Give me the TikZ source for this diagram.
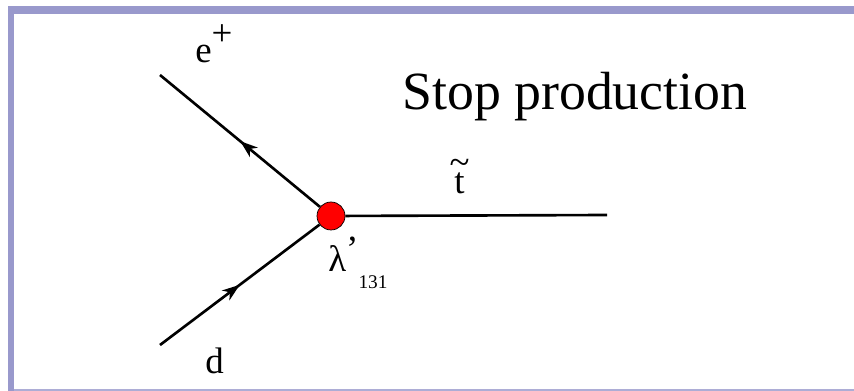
\documentclass[tikz,border=0pt]{standalone}
\usepackage{fontspec}
\setmainfont{Liberation Serif}
\usepackage{xcolor}
\usetikzlibrary{arrows.meta, decorations.markings}

\definecolor{framecol}{RGB}{153,153,204}

\begin{document}
\begin{tikzpicture}[
    x=0.02cm, y=-0.02cm,
    line/.style={line width=1.5pt},
    fermion/.style={line, postaction={decorate},
        decoration={markings, mark=at position 0.5 with {\arrow{Stealth[length=10pt, width=7pt, inset=3pt]}}}},
    vertex/.style={circle, draw=black, fill=red, thin, minimum size=0.56cm, inner sep=0pt},
    label/.style={inner sep=0pt, font=\fontsize{21}{24}\selectfont},
    title/.style={inner sep=0pt, font=\fontsize{30.6}{36}\selectfont}
]
\useasboundingbox (0,0) rectangle (854,391);

% Frame
\fill[framecol] (8,6) rectangle (854,14);
\fill[framecol] (8,6) rectangle (14,391);
\fill[framecol!80] (14,389) rectangle (854,391);

% Vertex and ends
\node[vertex] (v) at (331,216) {};
\coordinate (eend) at (160,75);
\coordinate (dend) at (160,345);
\coordinate (tend) at (607,215);

\draw[fermion] (v) -- (eend);
\draw[fermion] (dend) -- (v);
\draw[line] (v) -- (tend);

% Labels
\node[label, anchor=base west] (elab) at (195,63) {e\raisebox{10pt}{+}};
\node[label, anchor=base west] (dlab) at (205,373) {d};
\node[label, anchor=base west] (tlab) at (454,194)
    {\ooalign{t\cr\hidewidth\raisebox{11pt}{\~{}}\hidewidth\cr}};
\node[label, anchor=base west] (lamlab) at (328,272)
    {λ\raisebox{6pt}{’}\raisebox{-9.6pt}{\fontsize{11}{11}\selectfont 131}};

\node[title, anchor=base west] (title) at (402,110) {Stop production};

\end{tikzpicture}
\end{document}
